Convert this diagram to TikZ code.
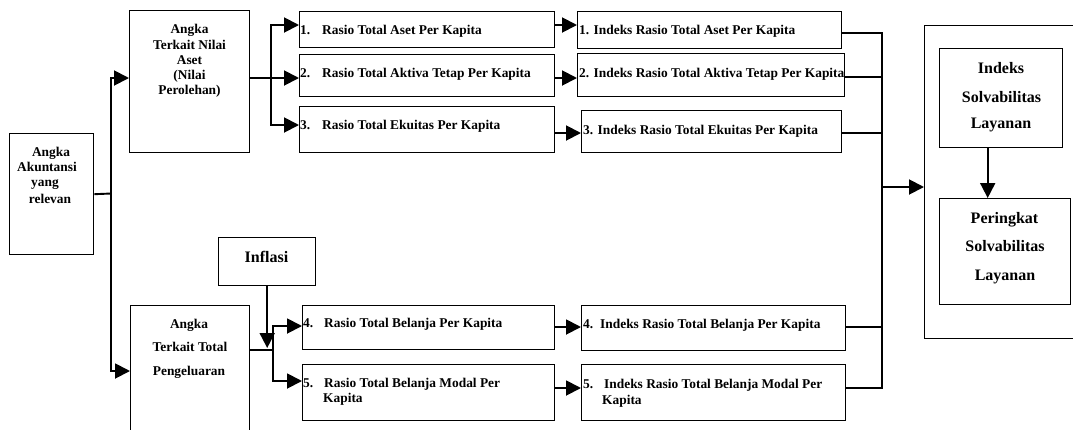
\documentclass[tikz,border=0pt]{standalone}
\usepackage{fontspec}
\setmainfont{Liberation Serif}
\usetikzlibrary{arrows.meta}
\begin{document}
\begin{tikzpicture}[x=1pt,y=-1pt,
  box/.style={draw, line width=1.4pt, inner sep=0pt, anchor=north west},
  conn/.style={line width=1.9pt},
  rconn/.style={line width=1.4pt},
  arr/.style={-{Triangle[length=15pt,width=15pt]}},
  txt/.style={font=\fontsize{13.4}{15}\selectfont\bfseries, inner sep=0pt, anchor=base},
  ltxt/.style={txt, anchor=base west},
  big/.style={font=\fontsize{16}{18}\selectfont\bfseries, inner sep=0pt, anchor=base}]
\useasboundingbox (0,0) rectangle (1073,429);
\clip (0,0) rectangle (1073,429);

% boxes
\node[box, minimum width=84pt, minimum height=121pt] (akun) at (9,133) {};
\node[box, minimum width=120pt, minimum height=142pt] (aset) at (129,10) {};
\node[box, minimum width=119pt, minimum height=140pt] (peng) at (130,305) {};
\node[box, minimum width=97pt, minimum height=48pt] (infl) at (218,237) {};
\node[box, minimum width=255pt, minimum height=36pt] (r1) at (299,11) {};
\node[box, minimum width=255pt, minimum height=42pt] (r2) at (299,54) {};
\node[box, minimum width=255pt, minimum height=46pt] (r3) at (299,106) {};
\node[box, minimum width=252pt, minimum height=44pt] (r4) at (302,305) {};
\node[box, minimum width=252pt, minimum height=56pt] (r5) at (302,364) {};
\node[box, minimum width=264pt, minimum height=37pt] (i1) at (577,11) {};
\node[box, minimum width=267pt, minimum height=43pt] (i2) at (577,53) {};
\node[box, minimum width=260pt, minimum height=42pt] (i3) at (581,110) {};
\node[box, minimum width=264pt, minimum height=45pt] (i4) at (581,305) {};
\node[box, minimum width=264pt, minimum height=56pt] (i5) at (581,364) {};
\node[box, minimum width=160pt, minimum height=313pt] (outer) at (924,25) {};
\node[box, minimum width=123pt, minimum height=99pt] (isl) at (939,48) {};
\node[box, minimum width=131pt, minimum height=106pt] (per) at (939,198) {};

% texts
\node[txt] (ta1) at (51,156.5) {Angka};
\node[txt] (ta2) at (47,171.5) {Akuntansi};
\node[txt] (ta3) at (45,186.5) {yang};
\node[txt] (ta4) at (50,203) {relevan};

\node[txt] (tb1) at (189.5,33.5) {Angka};
\node[txt] (tb2) at (189.5,49) {Terkait Nilai};
\node[txt] (tb3) at (189.5,64) {Aset};
\node[txt] (tb4) at (189.5,79) {(Nilai};
\node[txt] (tb5) at (189.5,94) {Perolehan)};

\node[txt] (tc1) at (189,328.5) {Angka};
\node[txt] (tc2) at (190,351.5) {Terkait Total};
\node[txt] (tc3) at (189,375) {Pengeluaran};

\node[big] (tinf) at (266.5,262.5) {Inflasi};

\node[ltxt] (tr1) at (300,34) {\makebox[22pt][l]{1.}Rasio Total Aset Per Kapita};
\node[ltxt] (tr2) at (300,77) {\makebox[22pt][l]{2.}Rasio Total Aktiva Tetap Per Kapita};
\node[ltxt] (tr3) at (300,129.5) {\makebox[22pt][l]{3.}Rasio Total Ekuitas Per Kapita};
\node[ltxt] (tr4) at (303,327.5) {\makebox[21pt][l]{4.}Rasio Total Belanja Per Kapita};
\node[ltxt] (tr5) at (303,387.5) {\makebox[21pt][l]{5.}Rasio Total Belanja Modal Per};
\node[ltxt] (tr5b) at (323,402.5) {Kapita};

\node[ltxt] (ti1) at (579,34.5) {1. Indeks Rasio Total Aset Per Kapita};
\node[ltxt] (ti2) at (579,77) {2. Indeks Rasio Total Aktiva Tetap Per Kapita};
\node[ltxt] (ti3) at (583,134) {3. Indeks Rasio Total Ekuitas Per Kapita};
\node[ltxt] (ti4) at (583,328.5) {\makebox[17pt][l]{4.}Indeks Rasio Total Belanja Per Kapita};
\node[ltxt] (ti5) at (583,388.5) {\makebox[21pt][l]{5.}Indeks Rasio Total Belanja Modal Per};
\node[ltxt] (ti5b) at (602,404.5) {Kapita};

\node[big] (ts1) at (1001,73.5) {Indeks};
\node[big] (ts2) at (1001.5,102.5) {Solvabilitas};
\node[big] (ts3) at (1001,128) {Layanan};
\node[big] (tp1) at (1004.5,223.5) {Peringkat};
\node[big] (tp2) at (1005,251.5) {Solvabilitas};
\node[big] (tp3) at (1005,280) {Layanan};

% connectors (left)
\coordinate (j1) at (111,193.5);
\draw[conn] (akun.east) -- (j1);
\draw[conn,arr] (j1) |- (aset.west |- 0,78);
\draw[conn,arr] (j1) |- (peng.west |- 0,371);

\coordinate (j2) at (271,78);
\draw[conn] (aset.east |- 0,78) -- (j2);
\draw[conn,arr] (j2) |- (r1.west |- 0,25);
\draw[conn,arr] (j2) -- (r2.west |- 0,78);
\draw[conn,arr] (j2) |- (r3.west |- 0,125);

\coordinate (j3) at (273,350);
\draw[conn] (peng.east |- 0,350) -- (j3);
\draw[conn,arr] (j3) |- (r4.west |- 0,326);
\draw[conn,arr] (j3) |- (r5.west |- 0,381);
\draw[conn,arr] (infl.south) -- (infl.south |- 0,348);

% ratio -> index
\draw[conn,arr] (r1.east |- 0,25) -- (i1.west |- 0,25);
\draw[conn,arr] (r2.east |- 0,78) -- (i2.west |- 0,78);
\draw[conn,arr] (r3.east |- 0,133) -- (i3.west |- 0,133);
\draw[conn,arr] (r4.east |- 0,327) -- (i4.west |- 0,327);
\draw[conn,arr] (r5.east |- 0,388) -- (i5.west |- 0,388);

% collector
\coordinate (bus) at (882,187);
\draw[rconn] (i1.east |- 0,33) -- (882,33) -- (882,388) -- (i5.east |- 0,388);
\draw[rconn] (i2.east |- 0,77) -- (882,77);
\draw[rconn] (i3.east |- 0,133) -- (882,133);
\draw[rconn] (i4.east |- 0,327) -- (882,327);
\draw[conn,arr] (bus) -- (outer.west |- bus);

% right
\draw[conn,arr] ([xshift=-13.5pt]isl.south) -- ([xshift=-13.5pt]isl.south |- per.north);
\end{tikzpicture}
\end{document}
